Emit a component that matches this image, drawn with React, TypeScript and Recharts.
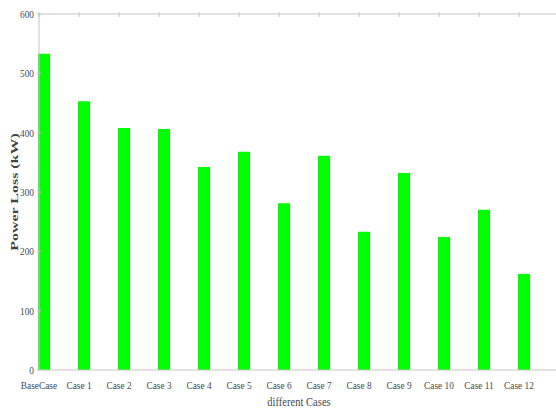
import { Bar, BarChart, Label, XAxis, YAxis } from "recharts";

const cases = [
  "BaseCase",
  "Case 1",
  "Case 2",
  "Case 3",
  "Case 4",
  "Case 5",
  "Case 6",
  "Case 7",
  "Case 8",
  "Case 9",
  "Case 10",
  "Case 11",
  "Case 12",
];
const powerLoss = [533, 453, 408, 406, 342, 368, 281, 361, 233, 332, 224, 270, 162];
const yTicks = [0, 100, 200, 300, 400, 500, 600];

const data = cases.map((name, i) => ({ name, loss: powerLoss[i] }));

const FONT = "'Liberation Serif', 'DejaVu Serif', serif";
const AXIS = "#c4c4c4";
const TEXT = "#4a4a4a";
const LABEL_SHIFT = -5;

// text squeezed sideways, like the resampled original figure
function Squeezed({ x, y, anchor = "middle", size = 11, sx = 0.85, bold = false, children }: any) {
  return (
    <text
      transform={`translate(${x} ${y}) scale(${sx} 1)`}
      textAnchor={anchor}
      style={{ fontFamily: FONT, fontSize: size, fontWeight: bold ? "bold" : "normal" }}
      fill={TEXT}
    >
      {children}
    </text>
  );
}

function BottomTick({ x, y, payload }: any) {
  return (
    <Squeezed x={x + LABEL_SHIFT} y={y + 17}>
      {payload.value}
    </Squeezed>
  );
}

function TopTick({ x, y }: any) {
  return <line x1={x + LABEL_SHIFT} x2={x + LABEL_SHIFT} y1={y} y2={y + 5} stroke={AXIS} />;
}

function LeftTick({ x, y, payload }: any) {
  return (
    <g>
      <line x1={x} x2={x + 4} y1={y} y2={y} stroke={AXIS} />
      <Squeezed x={x - 3} y={y + 4} anchor="end">
        {payload.value}
      </Squeezed>
    </g>
  );
}

function RightTick({ x, y }: any) {
  return <line x1={x - 6} x2={x} y1={y} y2={y} stroke={AXIS} />;
}

function YTitle({ viewBox }: any) {
  const cx = viewBox.x + 14;
  const cy = viewBox.y + viewBox.height / 2;
  return (
    <text
      transform={`translate(${cx} ${cy}) rotate(-90) scale(1.45 1)`}
      textAnchor="middle"
      dominantBaseline="central"
      style={{ fontFamily: FONT, fontSize: 11, fontWeight: "bold" }}
      fill="#444"
    >
      Power Loss (kW)
    </text>
  );
}

function XTitle({ viewBox }: any) {
  return (
    <Squeezed x={viewBox.x + viewBox.width / 2} y={viewBox.y + 36} size={12} sx={0.88}>
      different Cases
    </Squeezed>
  );
}

export default function App() {
  return (
    <div
      style={{
        position: "fixed",
        top: 0,
        left: 0,
        width: 556,
        height: 410,
        overflow: "hidden",
        background: "#fff",
      }}
    >
      <BarChart
        width={562}
        height={410}
        data={data}
        margin={{ top: 13, right: 2, left: 0, bottom: 10 }}
      >
        <XAxis
          dataKey="name"
          xAxisId="bottom"
          height={30}
          padding={{ left: -15, right: 15 }}
          interval={0}
          tickSize={0}
          tick={<BottomTick />}
          stroke={AXIS}
        >
          <Label content={<XTitle />} />
        </XAxis>
        <XAxis
          dataKey="name"
          xAxisId="top"
          orientation="top"
          height={1}
          padding={{ left: -15, right: 15 }}
          interval={0}
          tickSize={0}
          tick={<TopTick />}
          stroke={AXIS}
        />
        <YAxis
          yAxisId="left"
          width={39}
          domain={[0, 600]}
          ticks={yTicks}
          interval={0}
          tickSize={0}
          tick={<LeftTick />}
          stroke={AXIS}
          label={<YTitle />}
        />
        <YAxis
          yAxisId="right"
          orientation="right"
          width={1}
          domain={[0, 600]}
          ticks={yTicks}
          interval={0}
          tickSize={0}
          tick={<RightTick />}
          stroke={AXIS}
        />
        <Bar
          dataKey="loss"
          xAxisId="bottom"
          yAxisId="left"
          fill="#00ff00"
          barSize={12}
          isAnimationActive={false}
        />
      </BarChart>
    </div>
  );
}
